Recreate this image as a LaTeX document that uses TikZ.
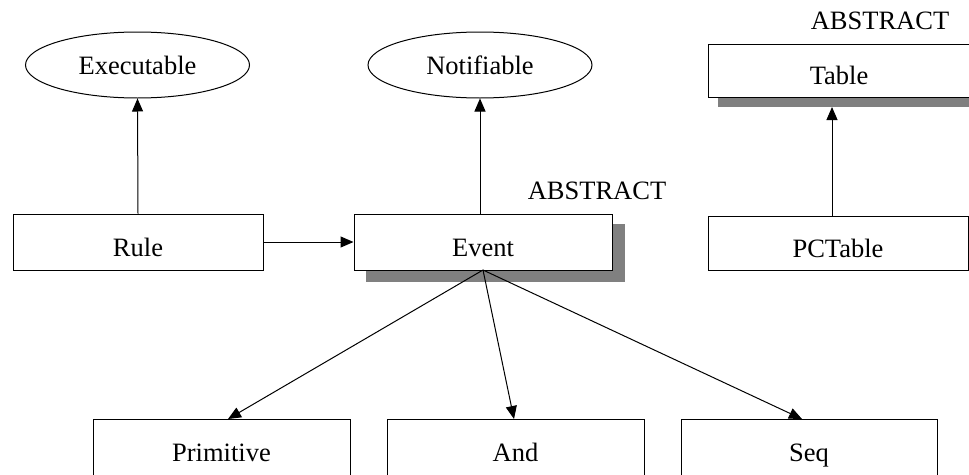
\documentclass[tikz,border=0pt]{standalone}
\usepackage{fontspec}
\setmainfont{Liberation Serif}
\usetikzlibrary{arrows.meta,shapes.geometric}
\begin{document}
\begin{tikzpicture}[x=1pt,y=-1pt,
  every node/.style={font=\fontsize{26.5}{30}\selectfont},
  classbox/.style={draw=black,fill=white,line width=1pt,inner sep=0pt,
    text height=28pt,text depth=0pt},
  iface/.style={draw=black,fill=white,ellipse,line width=1pt,inner sep=0pt,
    minimum width=224pt,minimum height=66pt,text height=18pt,text depth=0pt},
  link/.style={line width=1pt,-{Triangle[length=13pt,width=11pt]}},
  tag/.style={inner sep=0pt}]
\useasboundingbox (0,0) rectangle (969,474);
\clip (0,0) rectangle (969,474);

% drop shadows of the abstract classes
\fill[black!50] (366,224) rectangle (625,282);
\fill[black!50] (718,60) rectangle (980,107);

% interfaces
\node[iface] (exec) at (137.5,65) {Executable};
\node[iface] (notif) at (480,65) {Notifiable};

% classes
\node[classbox,minimum width=250pt,minimum height=56pt] (rule) at (138,242) {Rule};
\node[classbox,minimum width=258pt,minimum height=56pt] (event) at (483,242) {Event};
\node[classbox,minimum width=262pt,minimum height=53pt] (table) at (839,70.5) {Table};
\node[classbox,minimum width=260pt,minimum height=54pt] (pctable) at (838,243) {PCTable};
\node[classbox,minimum width=257pt,minimum height=56pt] (prim) at (221.5,447) {Primitive};
\node[classbox,minimum width=257pt,minimum height=56pt] (and) at (515.5,447) {And};
\node[classbox,minimum width=256pt,minimum height=56pt] (seq) at (809,447) {Seq};

% stereotype labels
\node[tag] (abs1) at (597,191) {ABSTRACT};
\node[tag] (abs2) at (880,21) {ABSTRACT};

% end points on the targets
\coordinate (primtop) at (228,419);
\coordinate (andtop) at (514,419);
\coordinate (seqtop) at (802,419);
\coordinate (tablebot) at (832,107);
\coordinate (pcttop) at (832,216);
\coordinate (evbot) at (483,270);

% connectors
\draw[link] (rule.north) -- (exec.south);
\draw[link] (event.north -| notif.south) -- (notif.south);
\draw[link] (rule.east) -- (event.west);
\draw[link] (pcttop) -- (tablebot);
\draw[link] (evbot) -- (primtop);
\draw[link] (evbot) -- (andtop);
\draw[link] (evbot) -- (seqtop);
\end{tikzpicture}
\end{document}
